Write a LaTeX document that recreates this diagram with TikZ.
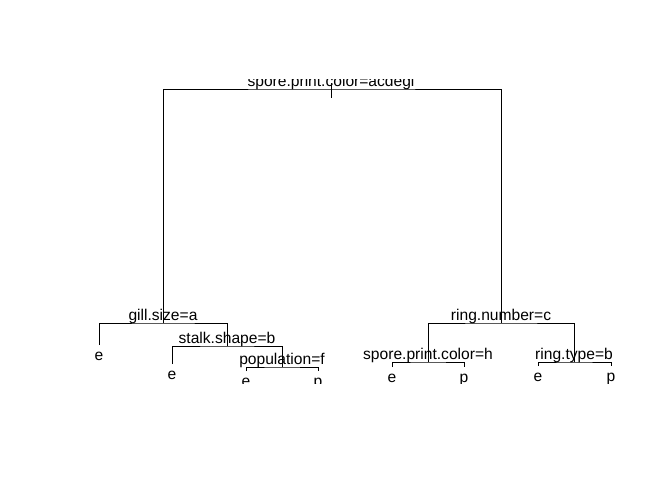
\documentclass[tikz,border=0pt]{standalone}
\usepackage{fontspec}
\setmainfont{Liberation Sans}
\begin{document}
\begin{tikzpicture}[x=1pt,y=-1pt,line width=1pt,
  lab/.style={font=\fontsize{15.6}{18}\selectfont,anchor=base,inner sep=0pt},
  edge/.style={draw=black,line cap=butt}]
\useasboundingbox (0,0) rectangle (672,480);
\begin{scope}
\clip (79,79) rectangle (632,383);
% node positions
\coordinate (r)    at (331,89);
\coordinate (a)    at (163,323);
\coordinate (b)    at (501,323);
\coordinate (a1)   at (99,345);
\coordinate (a2)   at (227,346);
\coordinate (a21)  at (172,364);
\coordinate (a22)  at (282,367);
\coordinate (a221) at (246,371);
\coordinate (a222) at (318,371);
\coordinate (b1)   at (428,362);
\coordinate (b11)  at (392,367);
\coordinate (b12)  at (464,367);
\coordinate (b2)   at (574,362);
\coordinate (b21)  at (538,366);
\coordinate (b22)  at (611,366);
% branches
\draw[edge] (a) |- (r) -| (b);
\draw[edge] (a1) |- (a) -| (a2);
\draw[edge] (a21) |- (a2) -| (a22);
\draw[edge] (a221) |- (a22) -| (a222);
\draw[edge] (b1) |- (b) -| (b2);
\draw[edge] (b11) |- (b1) -| (b12);
\draw[edge] (b21) |- (b2) -| (b22);
\draw[edge] ([yshift=6pt]r) -- ([yshift=-9pt]r);
% split labels
\node[lab] (lr)  at ([yshift=3pt]r)   {spore.print.color=acdegi};
\node[lab] (la)  at ([yshift=3pt]a)   {gill.size=a};
\node[lab] (la2) at ([yshift=3pt]a2)  {stalk.shape=b};
\node[lab] (la22) at ([yshift=3pt]a22) {population=f};
\node[lab] (lb)  at ([yshift=3pt]b)   {ring.number=c};
\node[lab] (lb1) at ([yshift=3pt]b1)  {spore.print.color=h};
\node[lab] (lb2) at ([yshift=3pt]b2)  {ring.type=b};
% leaf labels
\node[lab] (la1)   at ([yshift=-15.5pt]a1)   {e};
\node[lab] (la21)  at ([yshift=-15.5pt]a21)  {e};
\node[lab] (la221) at ([yshift=-15.5pt]a221) {e};
\node[lab] (la222) at ([yshift=-15.5pt]a222) {p};
\node[lab] (lb11)  at ([yshift=-15.5pt]b11)  {e};
\node[lab] (lb12)  at ([yshift=-15.5pt]b12)  {p};
\node[lab] (lb21)  at ([yshift=-15.5pt]b21)  {e};
\node[lab] (lb22)  at ([yshift=-15.5pt]b22)  {p};
\end{scope}
\end{tikzpicture}
\end{document}
